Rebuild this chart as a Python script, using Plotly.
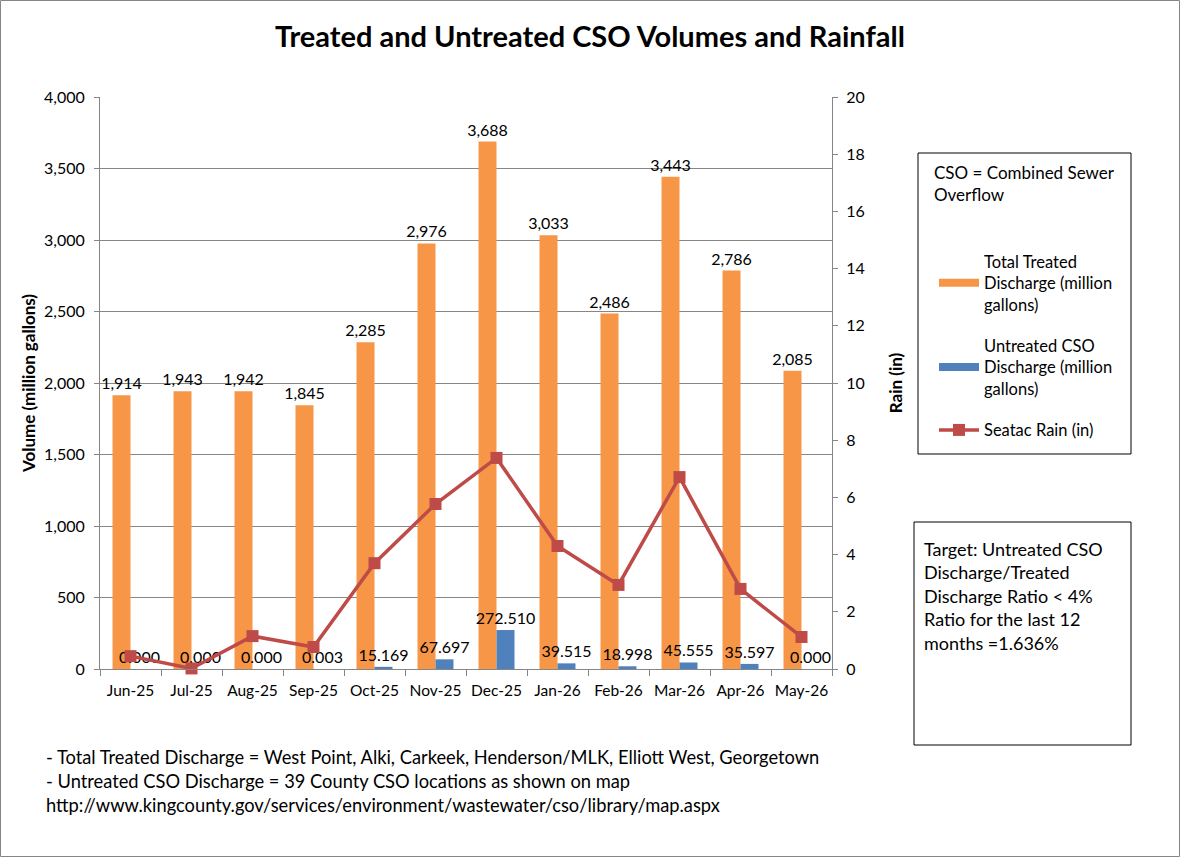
import plotly.graph_objects as go

months = ["Jun-25", "Jul-25", "Aug-25", "Sep-25", "Oct-25", "Nov-25",
          "Dec-25", "Jan-26", "Feb-26", "Mar-26", "Apr-26", "May-26"]
treated = [1914, 1943, 1942, 1845, 2285, 2976, 3688, 3033, 2486, 3443, 2786, 2085]
untreated = [0.000, 0.000, 0.000, 0.003, 15.169, 67.697, 272.510, 39.515, 18.998, 45.555, 35.597, 0.000]
rain = [0.45, 0.02, 1.15, 0.77, 3.70, 5.77, 7.38, 4.30, 2.94, 6.71, 2.80, 1.12]

W, H = 1180, 857
L, R, T, B = 100, 832, 97, 669
FONT = "Lato, Calibri, Carlito, sans-serif"
GRID = "#868686"
ORANGE, BLUE, RED = "#F79646", "#4F81BD", "#BE4B48"
NAME_T = "Total Treated<br>Discharge (million<br>gallons)"
NAME_U = "Untreated CSO<br>Discharge (million<br>gallons)"


def px(x):
    return (x - L) / (R - L)


def py(y):
    return (B - y) / (B - T)


fig = go.Figure()
fig.add_trace(go.Bar(
    x=months, y=treated, name=NAME_T,
    marker=dict(color=ORANGE, line=dict(width=0)),
    texttemplate="%{y:,.0f}", textposition="outside", constraintext="none",
    textfont=dict(size=16, color="#000000", family=FONT),
    showlegend=False, cliponaxis=False,
))
fig.add_trace(go.Bar(
    x=months, y=untreated, name=NAME_U,
    marker=dict(color=BLUE, line=dict(width=0)),
    texttemplate="%{y:.3f}", textposition="outside", constraintext="none",
    textfont=dict(size=16, color="#000000", family=FONT),
    showlegend=False, cliponaxis=False,
))
fig.add_trace(go.Scatter(
    x=months, y=rain, name="Seatac Rain (in)", yaxis="y2",
    mode="lines+markers",
    line=dict(color=RED, width=3.5),
    marker=dict(symbol="square", size=12, color=RED),
    showlegend=False, cliponaxis=False,
))
# legend entries (wide bar swatches like the original)
fig.add_trace(go.Scatter(x=[None], y=[None], name=NAME_T, mode="lines",
                         line=dict(color=ORANGE, width=8), legendgroup="a"))
fig.add_trace(go.Scatter(x=[None], y=[None], name=NAME_U, mode="lines",
                         line=dict(color=BLUE, width=8), legendgroup="b"))
fig.add_trace(go.Scatter(x=[None], y=[None], name="Seatac Rain (in)", mode="lines+markers",
                         line=dict(color=RED, width=3.5),
                         marker=dict(symbol="square", size=12, color=RED),
                         legendgroup="c"))

shapes = [
    dict(type="rect", xref="paper", yref="paper",
         x0=px(0.5), x1=px(W - 0.5), y0=py(H - 0.5), y1=py(0.5),
         line=dict(color="#868686", width=1)),
    dict(type="rect", xref="paper", yref="paper",
         x0=px(918), x1=px(1131), y0=py(454), y1=py(153),
         line=dict(color="#000000", width=1)),
    dict(type="rect", xref="paper", yref="paper",
         x0=px(914), x1=px(1131), y0=py(745), y1=py(522),
         line=dict(color="#000000", width=1)),
]

annotations = [
    dict(text="<b>Treated and Untreated CSO Volumes and Rainfall</b>",
         xref="paper", yref="paper", x=px(590), y=py(35),
         xanchor="center", yanchor="middle", showarrow=False,
         font=dict(size=29, color="#000000", family=FONT)),
    dict(text="CSO = Combined Sewer<br>Overflow",
         xref="paper", yref="paper", x=px(932), y=py(160),
         xanchor="left", yanchor="top", align="left", showarrow=False,
         font=dict(size=17, color="#000000", family=FONT)),
    dict(text="Target: Untreated CSO<br>Discharge/Treated<br>Discharge Ratio &lt; 4%<br>Ratio for the last 12<br>months =1.636%",
         xref="paper", yref="paper", x=px(922), y=py(536),
         xanchor="left", yanchor="top", align="left", showarrow=False,
         font=dict(size=18, color="#000000", family=FONT)),
    dict(text="- Total Treated Discharge = West Point, Alki, Carkeek, Henderson/MLK, Elliott West, Georgetown<br>"
              "- Untreated CSO Discharge = 39 County CSO locations as shown on map<br>"
              "http://www.kingcounty.gov/services/environment/wastewater/cso/library/map.aspx",
         xref="paper", yref="paper", x=px(44), y=py(744),
         xanchor="left", yanchor="top", align="left", showarrow=False,
         font=dict(size=18.3, color="#000000", family=FONT)),
]

fig.update_layout(
    width=W, height=H,
    margin=dict(l=L, r=W - R, t=T, b=H - B, pad=0),
    paper_bgcolor="#FFFFFF", plot_bgcolor="#FFFFFF",
    font=dict(family=FONT, color="#000000", size=15),
    barmode="group", bargap=0.41, bargroupgap=0,
    showlegend=True,
    legend=dict(x=px(934), y=py(244), xanchor="left", yanchor="top",
                bgcolor="rgba(0,0,0,0)", borderwidth=0,
                font=dict(size=16.5, family=FONT, color="#000000"),
                tracegroupgap=17, itemwidth=40, traceorder="grouped"),
    xaxis=dict(
        type="category", range=[-0.5, 11.5], autorange=False,
        showgrid=False, showline=True, linecolor=GRID, linewidth=1,
        ticks="outside", tickson="boundaries", tickcolor=GRID, ticklen=6,
        tickangle=0, ticklabelstandoff=7,
        tickfont=dict(size=15.5, family=FONT, color="#000000"),
    ),
    yaxis=dict(
        range=[0, 4000], dtick=500, tickformat=",d",
        showgrid=True, gridcolor=GRID, gridwidth=1,
        showline=True, linecolor=GRID, linewidth=1,
        ticks="outside", tickcolor=GRID, ticklen=5, ticklabelstandoff=6,
        tickfont=dict(size=16, family=FONT, color="#000000"),
        title=dict(text="<b>Volume (million gallons)</b>", standoff=4,
                   font=dict(size=17, family=FONT, color="#000000")),
        zeroline=False,
    ),
    yaxis2=dict(
        range=[0, 20], dtick=2, overlaying="y", side="right",
        showgrid=False, showline=True, linecolor=GRID, linewidth=1,
        ticks="outside", tickcolor=GRID, ticklen=5, ticklabelstandoff=5,
        tickfont=dict(size=16, family=FONT, color="#000000"),
        title=dict(text="<b>Rain (in)</b>", standoff=26,
                   font=dict(size=17, family=FONT, color="#000000")),
        zeroline=False,
    ),
    shapes=shapes, annotations=annotations,
)

fig.write_html("out.html")
